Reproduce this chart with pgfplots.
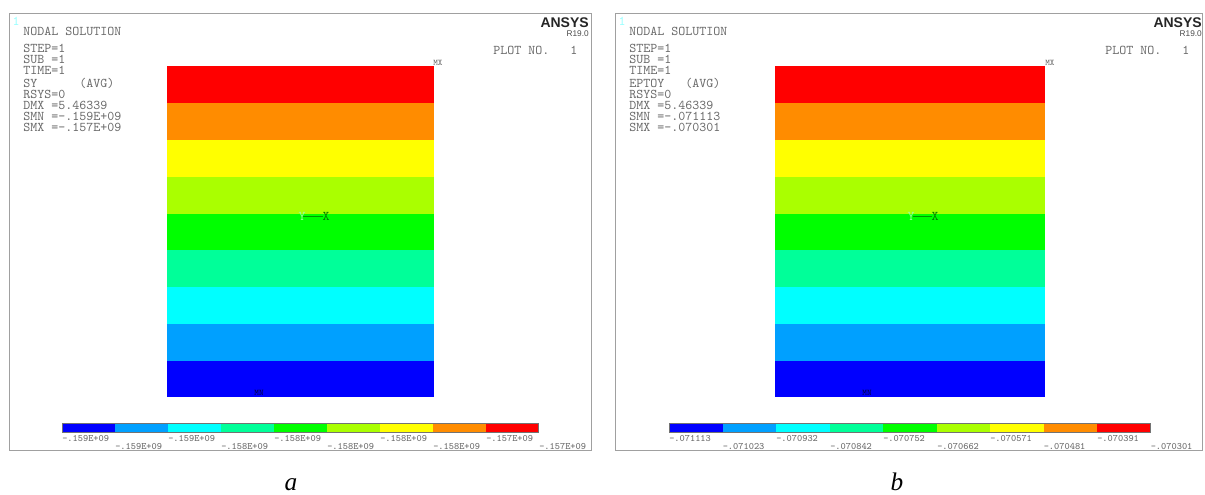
\documentclass[border=0pt]{standalone}
\usepackage{pgfplots}
\pgfplotsset{compat=1.18}
\usepackage{fontspec}
\setmainfont{Liberation Serif}
\setsansfont{Liberation Sans}

\definecolor{txt}{HTML}{6A6A6A}
\definecolor{frm}{HTML}{A0A0A0}
\definecolor{c1}{HTML}{0000FF}
\definecolor{c2}{HTML}{00A0FF}
\definecolor{c3}{HTML}{00FFFF}
\definecolor{c4}{HTML}{00FF99}
\definecolor{c5}{HTML}{00FF00}
\definecolor{c6}{HTML}{AAFF00}
\definecolor{c7}{HTML}{FFFF00}
\definecolor{c8}{HTML}{FF8C00}
\definecolor{c9}{HTML}{FF0000}

% one filled rectangle, pixel coordinates of the reference
\newcommand{\band}[5]{\addplot[fill=#1,draw=none,forget plot] coordinates {(#2,#4) (#3,#4) (#3,#5) (#2,#5)} -- cycle;}
\newcommand{\lab}[3]{\node[anchor=west,inner sep=0pt,font=\ttfamily\fontsize{7.35}{7.35}\selectfont,text=txt] at (axis cs:#1,#2) {#3};}
\newcommand{\info}[3]{\node[anchor=west,inner sep=0pt,yshift=0.75pt,font=\ttfamily\fontsize{10}{10}\selectfont,text=txt] at (axis cs:#1,#2) {#3};}

\begin{document}
\begin{tikzpicture}
\begin{axis}[
    width=903.75pt, height=370.5pt, scale only axis,
    xmin=0, xmax=1205, ymin=0, ymax=494,
    y dir=reverse,
    hide axis, clip=false,
]
\band{white}{0}{1205}{0}{494}

% panel a frame
\addplot[frm,line width=0.7pt] coordinates {(9,13.5) (591,13.5) (591,450) (9,450)} -- cycle;
% panel a contour bands
\band{c9}{167}{433.5}{66}{103}
\band{c8}{167}{433.5}{103}{140}
\band{c7}{167}{433.5}{140}{177}
\band{c6}{167}{433.5}{177}{214}
\band{c5}{167}{433.5}{214}{250}
\band{c4}{167}{433.5}{250}{287}
\band{c3}{167}{433.5}{287}{324}
\band{c2}{167}{433.5}{324}{361}
\band{c1}{167}{433.5}{361}{397}
% panel a colour bar
\band{c1}{62}{115}{423}{432.5}
\band{c2}{115}{168}{423}{432.5}
\band{c3}{168}{221}{423}{432.5}
\band{c4}{221}{274}{423}{432.5}
\band{c5}{274}{327}{423}{432.5}
\band{c6}{327}{380}{423}{432.5}
\band{c7}{380}{433}{423}{432.5}
\band{c8}{433}{486}{423}{432.5}
\band{c9}{486}{538}{423}{432.5}
\addplot[black!55,line width=0.7pt] coordinates {(62,423) (538,423) (538,432.5) (62,432.5)} -- cycle;
\lab{62}{438}{-.159E+09}
\lab{115}{446}{-.159E+09}
\lab{168}{438}{-.159E+09}
\lab{221}{446}{-.158E+09}
\lab{274}{438}{-.158E+09}
\lab{327}{446}{-.158E+09}
\lab{380}{438}{-.158E+09}
\lab{433}{446}{-.158E+09}
\lab{486}{438}{-.157E+09}
\lab{539}{446}{-.157E+09}
% panel a text
\node[inner sep=0pt,font=\ttfamily\fontsize{10}{10}\selectfont,text=c3!40!white] at (axis cs:16,21) {1};
\info{23}{32}{NODAL SOLUTION}
\info{23}{49}{STEP=1}
\info{23}{60}{SUB =1}
\info{23}{71}{TIME=1}
\info{23}{84}{SY~~~~~~(AVG)}
\info{23}{95}{RSYS=0}
\info{23}{106}{DMX =5.46339}
\info{23}{117}{SMN =-.159E+09}
\info{23}{128}{SMX =-.157E+09}
\info{493}{51}{PLOT NO.~~~1}
\node[anchor=east,inner sep=0pt,font=\sffamily\bfseries\fontsize{10.5}{10.5}\selectfont,text=black!85] at (axis cs:589,23) {ANSYS};
\node[anchor=east,inner sep=0pt,font=\sffamily\fontsize{6.2}{6.2}\selectfont,text=black!70] at (axis cs:589,34) {R19.0};
\node[anchor=west,inner sep=0pt,font=\ttfamily\fontsize{6.5}{6.5}\selectfont,text=txt] at (axis cs:433,63) {MX};
\node[inner sep=0pt,font=\ttfamily\fontsize{6.5}{6.5}\selectfont,text=black!70!blue] at (axis cs:259,393) {MN};
\addplot[black!40!green,line width=0.5pt] coordinates {(303,216) (323,216)};
\node[inner sep=0pt,font=\ttfamily\fontsize{10}{10}\selectfont,text=black!50!green] at (axis cs:326,216) {X};
\node[inner sep=0pt,font=\ttfamily\fontsize{10}{10}\selectfont,text=green!40!white] at (axis cs:302,216) {Y};
\node[anchor=base,inner sep=0pt,font=\rmfamily\itshape\fontsize{19}{19}\selectfont] at (axis cs:291,490) {a};

% panel b frame
\addplot[frm,line width=0.7pt] coordinates {(615,13.5) (1202.5,13.5) (1202.5,450) (615,450)} -- cycle;
% panel b contour bands
\band{c9}{775}{1045}{66}{103}
\band{c8}{775}{1045}{103}{140}
\band{c7}{775}{1045}{140}{177}
\band{c6}{775}{1045}{177}{214}
\band{c5}{775}{1045}{214}{250}
\band{c4}{775}{1045}{250}{287}
\band{c3}{775}{1045}{287}{324}
\band{c2}{775}{1045}{324}{361}
\band{c1}{775}{1045}{361}{397}
% panel b colour bar
\band{c1}{669}{722.5}{423}{432.5}
\band{c2}{722.5}{776}{423}{432.5}
\band{c3}{776}{830}{423}{432.5}
\band{c4}{830}{883}{423}{432.5}
\band{c5}{883}{937}{423}{432.5}
\band{c6}{937}{990}{423}{432.5}
\band{c7}{990}{1043.5}{423}{432.5}
\band{c8}{1043.5}{1097}{423}{432.5}
\band{c9}{1097}{1150.5}{423}{432.5}
\addplot[black!55,line width=0.7pt] coordinates {(669,423) (1150.5,423) (1150.5,432.5) (669,432.5)} -- cycle;
\lab{669}{438}{-.071113}
\lab{722.5}{446}{-.071023}
\lab{776}{438}{-.070932}
\lab{830}{446}{-.070842}
\lab{883}{438}{-.070752}
\lab{937}{446}{-.070662}
\lab{990}{438}{-.070571}
\lab{1043.5}{446}{-.070481}
\lab{1097}{438}{-.070391}
\lab{1150.5}{446}{-.070301}
% panel b text
\node[inner sep=0pt,font=\ttfamily\fontsize{10}{10}\selectfont,text=c3!40!white] at (axis cs:622,21) {1};
\info{629}{32}{NODAL SOLUTION}
\info{629}{49}{STEP=1}
\info{629}{60}{SUB =1}
\info{629}{71}{TIME=1}
\info{629}{84}{EPTOY~~~(AVG)}
\info{629}{95}{RSYS=0}
\info{629}{106}{DMX =5.46339}
\info{629}{117}{SMN =-.071113}
\info{629}{128}{SMX =-.070301}
\info{1105}{51}{PLOT NO.~~~1}
\node[anchor=east,inner sep=0pt,font=\sffamily\bfseries\fontsize{10.5}{10.5}\selectfont,text=black!85] at (axis cs:1202,23) {ANSYS};
\node[anchor=east,inner sep=0pt,font=\sffamily\fontsize{6.2}{6.2}\selectfont,text=black!70] at (axis cs:1202,34) {R19.0};
\node[anchor=west,inner sep=0pt,font=\ttfamily\fontsize{6.5}{6.5}\selectfont,text=txt] at (axis cs:1045,63) {MX};
\node[inner sep=0pt,font=\ttfamily\fontsize{6.5}{6.5}\selectfont,text=black!70!blue] at (axis cs:867,393) {MN};
\addplot[black!40!green,line width=0.5pt] coordinates {(913,216) (932,216)};
\node[inner sep=0pt,font=\ttfamily\fontsize{10}{10}\selectfont,text=black!50!green] at (axis cs:935,216) {X};
\node[inner sep=0pt,font=\ttfamily\fontsize{10}{10}\selectfont,text=green!40!white] at (axis cs:911,216) {Y};
\node[anchor=base,inner sep=0pt,font=\rmfamily\itshape\fontsize{19}{19}\selectfont] at (axis cs:897,490) {b};
\end{axis}
\end{tikzpicture}
\end{document}
